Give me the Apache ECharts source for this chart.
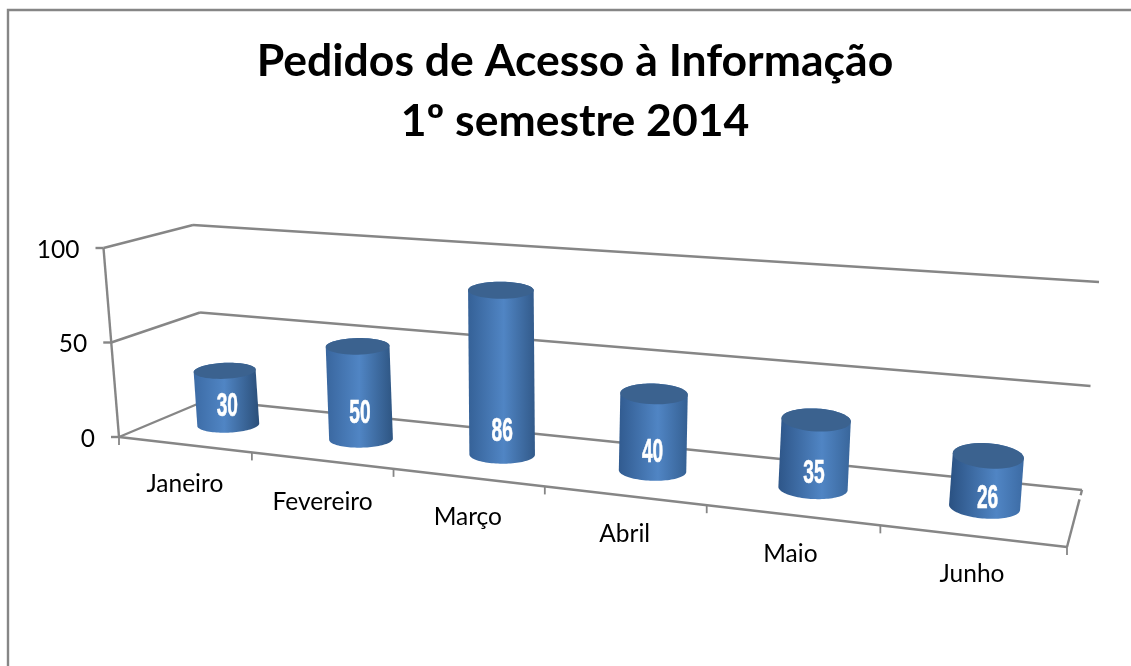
<!DOCTYPE html>
<html><head><meta charset="utf-8">
<style>html,body{margin:0;padding:0;background:#fff}#c{width:1131px;height:666px}</style>
<script src="https://cdn.jsdelivr.net/npm/echarts@6/dist/echarts.min.js"></script>
</head><body><div id="c"></div>
<script>
const categories = ['Janeiro','Fevereiro','Março','Abril','Maio','Junho'];
const pedidos = [30,50,86,40,35,26];
const yTicks = [0,50,100];
const titleText = 'Pedidos de Acesso à Informação\n1º semestre 2014';

// ---- view settings (not data) ----
const GRID = {left:119, top:249, width:948, height:188};
const A=[119,437], B=[1067,547], C=[207,400], D=[1082,490];   // floor corners
const UP = {fl:[-15.5,-189], fr:[17,-208], bl:[-14,-175], br:[17,-208]}; // axis-height vectors
const LINE='#868686';
const labelLift=[18,25,23,18,15,8];
const labelShift=[-1,-1,0,0,1,3];
const catLabelDrop=[[-67,32],[-71,33],[-77,31],[-82,29],[-90,29],[-95,27]];

const det=(p,q)=>p[0]*q[1]-p[1]*q[0];
const d1=[B[0]-D[0],B[1]-D[1]], d2=[C[0]-D[0],C[1]-D[1]], s=[A[0]-B[0]+D[0]-C[0],A[1]-B[1]+D[1]-C[1]];
const g=det(s,d2)/det(d1,d2), k=det(d1,s)/det(d1,d2);
function floorPt(u,d){
  const x=u+0.036*u*(1-u);
  const w=1+g*x+k*d;
  return [0,1].map(n=>((B[n]*(1+g)-A[n])*x+(C[n]*(1+k)-A[n])*d+A[n])/w);
}
// project (x along categories, d depth, h share of the value axis) on to the picture
function P(x,d,h){
  const f=floorPt(x,d);
  return [0,1].map(n=>f[n]+h*((1-x)*((1-d)*UP.fl[n]+d*UP.bl[n])+x*((1-d)*UP.fr[n]+d*UP.br[n])));
}
const xShare=px=>(px-GRID.left)/GRID.width;
const hShare=py=>(GRID.top+GRID.height-py)/GRID.height;
const line=(a,b,w)=>({type:'line',silent:true,shape:{x1:a[0],y1:a[1],x2:b[0],y2:b[1]},style:{stroke:LINE,lineWidth:w||2.4}});
const mix=(a,b,t)=>'rgb('+a.map((v,i)=>Math.round(v+(b[i]-v)*t)).join(',')+')';
const lbl=(text,x,y,align)=>({type:'text',silent:true,x,y,style:{text,align:align||'center',verticalAlign:'middle',fill:'#000',fontFamily:'Lato',fontSize:24.5}});

function renderWalls(params,api){
  const h=hShare(api.coord([0,api.value(1)])[1]);
  const a=P(0,0,h), b=P(0,1,h), c=P(1,1,h);
  const out=[line(a,b),line(b,c),line(a,[a[0]-8,a[1]]),lbl(String(api.value(1)),a[0]-24,a[1]+2,'right')];
  if(params.dataIndex===0){
    const top=P(0,0,1);
    out.push(line(a,top), line(a,P(1,0,0)), line(P(1,0,0),P(1,0.82,0)), line(P(1,0.9,0),P(1,1,0)));
  }
  return {type:'group',children:out};
}
function renderCats(params,api){
  const i=params.dataIndex;
  const half=api.size([1,0])[0]/2;
  const c=api.coord([i,0]);
  const x=xShare(c[0]+half);
  const end=P(x,0,0);
  const out=[line(end,[end[0],end[1]+8],1.8),
    lbl(categories[i],end[0]+catLabelDrop[i][0],end[1]+catLabelDrop[i][1])];
  if(i===0){const o=P(0,0,0); out.push(line(o,[o[0],o[1]+8],1.8));}
  return {type:'group',children:out};
}
function ellipse(c,rw,slope,rh,from,to){
  const pts=[];
  for(let n=0;n<=48;n++){
    const t=from+(to-from)*n/48;
    pts.push([c[0]+rw*Math.cos(t),c[1]+rw*slope*Math.cos(t)+rh*Math.sin(t)]);
  }
  return pts;
}
function renderBar(params,api){
  const i=params.dataIndex, v=api.value(1);
  const pos=api.coord([i,v]);
  const x=xShare(pos[0]), h=hShare(pos[1]);
  const base=P(x,.5,0), top=P(x,.5,h);
  const rw=30.5+5.5*x, slope=-0.05+0.13*x;
  const rhAt=hh=>Math.abs(P(x,.69,hh)[1]-P(x,.31,hh)[1])/2;
  const rb=rhAt(0)*1.1, rt0=rhAt(h), rt=rt0*1.22;
  top[1]+=rt-rt0;
  const body=[...ellipse(base,rw,slope,rb,0,Math.PI),...ellipse(top,rw,slope,rt,Math.PI,2*Math.PI)];
  const grad=new echarts.graphic.LinearGradient(0,0,1,0,[
    {offset:0,color:mix([62,110,168],[40,78,126],x)},
    {offset:.45+.2*x,color:'#5085c4'},
    {offset:1,color:mix([41,76,117],[62,110,168],x)}]);
  return {type:'group',children:[
    {type:'polygon',shape:{points:body},style:{fill:grad}},
    {type:'polygon',shape:{points:ellipse(top,rw,slope,rt,0,2*Math.PI)},style:{fill:'#3b628f'}},
    {type:'text',x:base[0]+labelShift[i],y:base[1]-labelLift[i],scaleX:.58,silent:true,style:{text:String(v),align:'center',verticalAlign:'middle',
      fill:'#fff',stroke:'#fff',lineWidth:.6,fontFamily:'Liberation Sans',fontWeight:'bold',fontSize:33}}
  ]};
}
const chart=echarts.init(document.getElementById('c'),null,{renderer:'canvas'});
chart.setOption({
  animation:false,
  backgroundColor:'#fff',
  title:{text:titleText,left:570,top:27,textAlign:'center',textStyle:{fontFamily:'Lato',fontWeight:'bold',fontSize:44.5,lineHeight:60,color:'#000'}},
  grid:GRID,
  xAxis:{type:'category',data:categories,show:false},
  yAxis:{type:'value',min:0,max:100,interval:50,show:false},
  graphic:[{type:'polyline',silent:true,shape:{points:[[8,666],[8,10],[1131,10]]},style:{stroke:LINE,lineWidth:2.4,fill:null}}],
  series:[
    {type:'custom',silent:true,z:1,renderItem:renderWalls,clip:false,encode:{x:0,y:1},data:yTicks.map(t=>[0,t])},
    {type:'custom',silent:true,z:2,renderItem:renderCats,clip:false,encode:{x:0,y:1},data:categories.map((c,i)=>[i,0])},
    {type:'custom',z:3,name:'Pedidos',renderItem:renderBar,clip:false,encode:{x:0,y:1},data:pedidos.map((v,i)=>[i,v])}
  ]
});
</script></body></html>
